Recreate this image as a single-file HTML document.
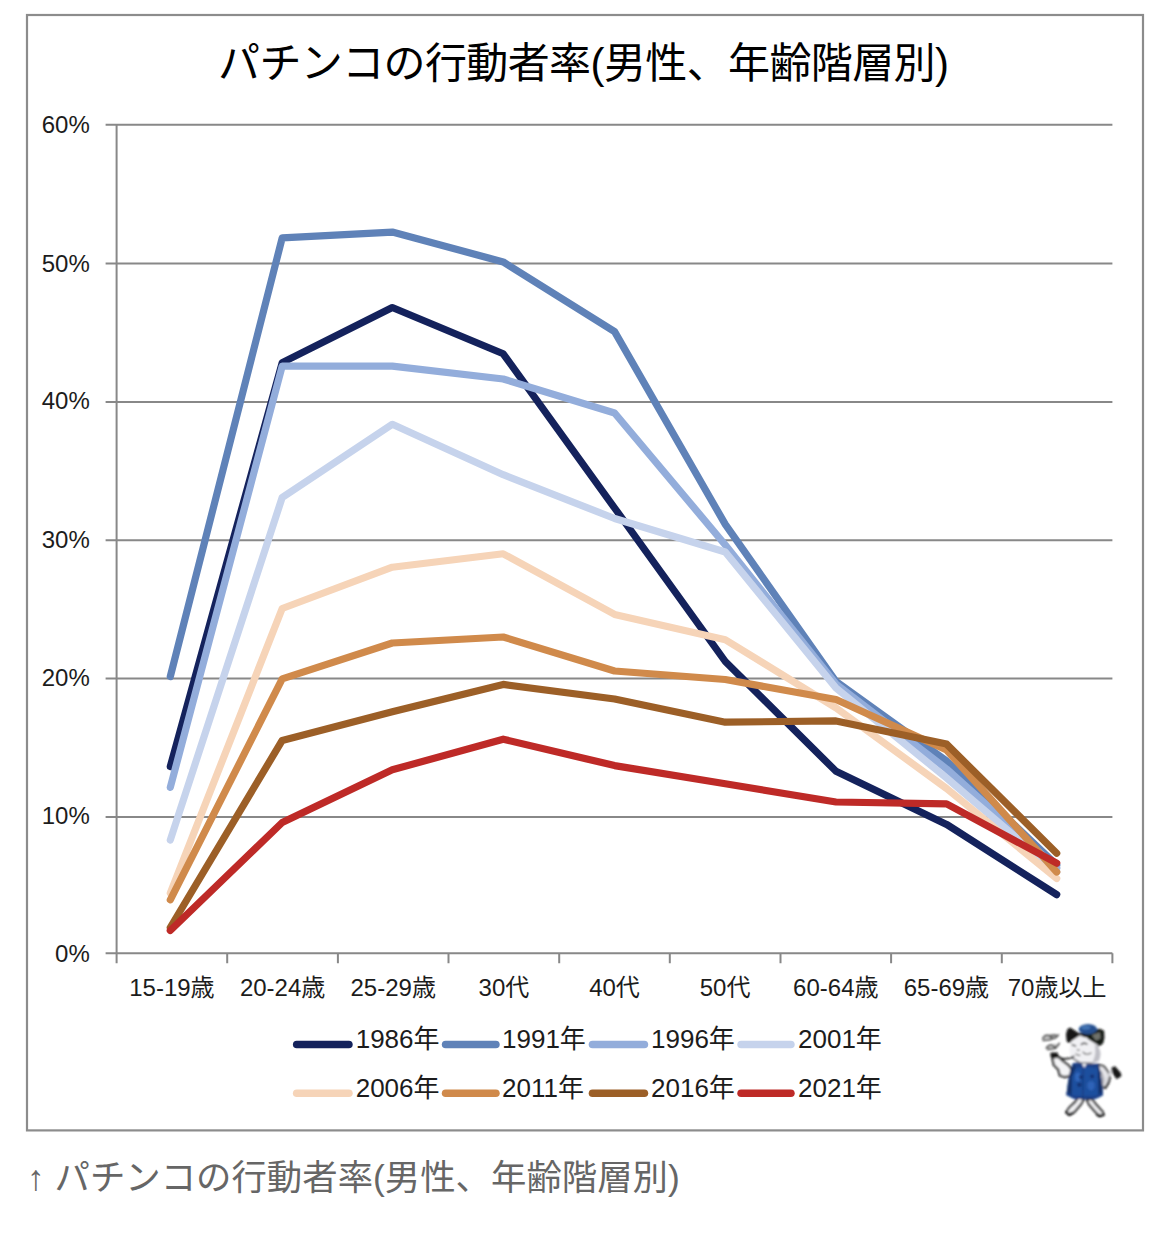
<!DOCTYPE html>
<html lang="ja">
<head>
<meta charset="utf-8">
<title>パチンコの行動者率(男性、年齢階層別)</title>
<style>
html,body{margin:0;padding:0;background:#fff;}
body{width:1170px;height:1244px;overflow:hidden;font-family:"Liberation Sans","Noto Sans CJK JP",sans-serif;}
svg{display:block;}
.t text{font-family:"Liberation Sans","Noto Sans CJK JP",sans-serif;fill:#1c1c1c;stroke:none;}
</style>
</head>
<body>
<svg width="1170" height="1244" viewBox="0 0 1170 1244" role="img" aria-label="パチンコの行動者率(男性、年齢階層別)">
<rect x="0" y="0" width="1170" height="1244" fill="#fff"/>
<g>
<rect x="27" y="15" width="1116" height="1115.4" fill="#fff" stroke="#8c8c8c" stroke-width="2.2"/>
<path d="M105.6 124.7H1112.4M105.6 263.4H1112.4M105.6 401.9H1112.4M105.6 540.3H1112.4M105.6 678.5H1112.4M105.6 817.1H1112.4M105.6 953.3H1112.4" stroke="#888888" stroke-width="2" fill="none"/>
<path d="M116.6 124.7V953.3" stroke="#888888" stroke-width="2" fill="none"/>
<path d="M116.6 953.3v10M227.2 953.3v10M337.9 953.3v10M448.5 953.3v10M559.2 953.3v10M669.8 953.3v10M780.5 953.3v10M891.1 953.3v10M1001.8 953.3v10M1112.4 953.3v10" stroke="#888888" stroke-width="2" fill="none"/>
<polyline points="170.3,766.5 282.2,362.6 392.3,307.5 503.2,353.8 614.6,508.0 725.3,661.5 836.0,771.3 946.6,824.4 1056.7,894.6" fill="none" stroke="#14225c" stroke-width="7.2" stroke-linecap="round" stroke-linejoin="round"/>
<polyline points="170.3,676.5 282.2,237.9 392.3,232.1 503.2,261.9 614.6,331.6 725.3,524.4 836.0,681.5 946.6,761.0 1056.7,865.0" fill="none" stroke="#5f82b8" stroke-width="7.2" stroke-linecap="round" stroke-linejoin="round"/>
<polyline points="170.3,787.4 282.2,366.2 392.3,366.2 503.2,379.0 614.6,413.0 725.3,545.0 836.0,684.0 946.6,769.0 1056.7,868.0" fill="none" stroke="#93addb" stroke-width="7.2" stroke-linecap="round" stroke-linejoin="round"/>
<polyline points="170.3,840.0 282.2,497.4 392.3,424.3 503.2,474.7 614.6,518.5 725.3,552.0 836.0,688.0 946.6,778.0 1056.7,872.0" fill="none" stroke="#c6d3ec" stroke-width="7.2" stroke-linecap="round" stroke-linejoin="round"/>
<polyline points="170.3,893.0 282.2,608.5 392.3,567.2 503.2,553.8 614.6,614.4 725.3,639.7 836.0,707.9 946.6,788.5 1056.7,878.5" fill="none" stroke="#f6d4b8" stroke-width="7.2" stroke-linecap="round" stroke-linejoin="round"/>
<polyline points="170.3,899.8 282.2,678.9 392.3,643.0 503.2,637.0 614.6,671.0 725.3,679.5 836.0,699.5 946.6,750.1 1056.7,872.0" fill="none" stroke="#d08a4b" stroke-width="7.2" stroke-linecap="round" stroke-linejoin="round"/>
<polyline points="170.3,927.5 282.2,740.4 392.3,711.7 503.2,684.4 614.6,699.0 725.3,722.2 836.0,720.9 946.6,744.1 1056.7,853.3" fill="none" stroke="#9c5f27" stroke-width="7.2" stroke-linecap="round" stroke-linejoin="round"/>
<polyline points="170.3,930.5 282.2,822.5 392.3,769.8 503.2,739.2 614.6,765.6 725.3,783.8 836.0,802.0 946.6,803.9 1056.7,863.2" fill="none" stroke="#be2a27" stroke-width="7.2" stroke-linecap="round" stroke-linejoin="round"/>
<path d="M296.7 1044.5H348.9" stroke="#14225c" stroke-width="7.6" stroke-linecap="round" fill="none"/>
<path d="M445.6 1044.5H495.9" stroke="#5f82b8" stroke-width="7.6" stroke-linecap="round" fill="none"/>
<path d="M592.5 1044.5H644.4" stroke="#93addb" stroke-width="7.6" stroke-linecap="round" fill="none"/>
<path d="M741.1 1044.5H790.9" stroke="#c6d3ec" stroke-width="7.6" stroke-linecap="round" fill="none"/>
<path d="M296.7 1093.3H348.9" stroke="#f6d4b8" stroke-width="7.6" stroke-linecap="round" fill="none"/>
<path d="M445.6 1093.3H495.9" stroke="#d08a4b" stroke-width="7.6" stroke-linecap="round" fill="none"/>
<path d="M592.5 1093.3H644.4" stroke="#9c5f27" stroke-width="7.6" stroke-linecap="round" fill="none"/>
<path d="M741.1 1093.3H790.9" stroke="#be2a27" stroke-width="7.6" stroke-linecap="round" fill="none"/>
<defs><filter id="mb" x="-10%" y="-10%" width="120%" height="120%"><feGaussianBlur stdDeviation="9.6"/></filter></defs>
<g transform="translate(1030,1015) scale(0.08842)" filter="url(#mb)" stroke-linejoin="round" stroke-linecap="round">
<!-- smoke -->
<path d="M150 250C180 205 300 200 320 235C330 265 200 290 150 285ZM185 355C215 320 315 315 330 345C335 375 230 395 190 385Z" fill="#d2d2d2"/>
<path d="M145 268C170 215 215 225 235 250S290 265 320 225M150 288L240 276M215 235L290 228M185 372C215 330 250 335 270 355S310 350 330 322M200 388L292 376" fill="none" stroke="#4a4a4a" stroke-width="19"/>
<!-- tail + right body -->
<path d="M770 560L835 578L890 650L895 745L852 828L800 800Z" fill="#e6e6ea" stroke="#383838" stroke-width="22"/>
<path d="M800 640C830 700 835 760 815 800" fill="none" stroke="#a9a9b0" stroke-width="26"/>
<path d="M860 745C890 705 900 655 945 618" fill="none" stroke="#dcdce0" stroke-width="40"/>
<path d="M850 820C885 790 900 750 905 700" fill="none" stroke="#222" stroke-width="22"/>
<path d="M928 598L962 584L1022 655L1030 690L980 720L935 655Z" fill="#161616" stroke="#161616" stroke-width="10"/>
<!-- legs -->
<path d="M545 935L612 950L575 1012L500 1100L440 1126L408 1100L450 1040L510 985Z" fill="#f3f3f5" stroke="#222" stroke-width="24"/>
<path d="M640 948L702 952L745 1010L822 1095L832 1130L775 1137L720 1075L665 1010Z" fill="#f3f3f5" stroke="#222" stroke-width="24"/>
<path d="M412 1100L445 1128L480 1110M760 1125L790 1142L830 1128" stroke="#111" stroke-width="30" fill="none"/>
<!-- arm -->
<path d="M252 482L322 470L372 522L432 566L468 610L455 690L388 702L337 685L320 617L269 566Z" fill="#f4f4f6" stroke="#1e1e1e" stroke-width="25"/>
<!-- vest -->
<path d="M486 545L590 530L640 545L770 552L795 640L818 800L826 906L740 950L500 950L412 906L430 760L455 640Z" fill="#1f4f9e"/>
<path d="M486 545L455 640L430 760L412 906L470 930L475 700L520 590ZM770 552L795 640L818 800L826 906L775 935L768 700Z" fill="#13306a"/>
<path d="M486 545L590 530L640 545L770 552L772 600L640 585L520 600Z" fill="#1a3f86"/>
<path d="M412 906L500 950L740 950L826 906L820 870L740 915L500 915L415 870Z" fill="#1a4088"/>
<path d="M603 600L596 940" stroke="#173c82" stroke-width="16" fill="none"/>
<ellipse cx="540" cy="700" rx="30" ry="50" fill="#3268bd"/><ellipse cx="690" cy="800" rx="40" ry="50" fill="#2f64b8"/>
<circle cx="575" cy="702" r="22" fill="#122f6e"/><circle cx="703" cy="694" r="22" fill="#122f6e"/><circle cx="558" cy="790" r="24" fill="#122f6e"/>
<path d="M583 536L648 540L612 598Z" fill="#f2f2f4"/>
<!-- ears -->
<path d="M430 160L455 148L550 208L640 205L640 250L560 250L500 278L455 312L420 300L413 220Z" fill="#121212" stroke="#121212" stroke-width="10"/>
<path d="M640 215L700 175L790 160L834 180L837 260L822 322L772 354L740 338L659 284Z" fill="#171a17" stroke="#171a17" stroke-width="10"/>
<path d="M700 225L790 195L800 262L745 290Z" fill="#70726c"/>
<!-- head -->
<path d="M566 238L660 282L758 343L795 436L782 518L700 546L560 536L470 482L452 400L473 300Z" fill="#f1f1f4" stroke="#f1f1f4" stroke-width="14"/>
<path d="M730 330C800 360 815 450 775 520L700 545C745 470 745 400 730 330Z" fill="#bfbfc6"/>
<path d="M470 482L560 536L700 546" stroke="#6a6a70" stroke-width="16" fill="none"/>
<!-- hat -->
<ellipse cx="655" cy="160" rx="104" ry="58" fill="#27508f"/>
<ellipse cx="632" cy="142" rx="52" ry="24" fill="#4273b4"/>
<!-- face -->
<path d="M478 338L514 350M580 334C598 318 625 318 644 328" stroke="#2a2a2a" stroke-width="16" fill="none"/>
<path d="M535 395L556 398M520 440C535 458 550 460 565 455M600 420C620 450 660 450 690 430" stroke="#666" stroke-width="14" fill="none"/>
<!-- pipe -->
<rect x="232" y="424" width="84" height="54" rx="10" fill="#131313"/>
<path d="M304 470C345 505 440 505 495 468" stroke="#181818" stroke-width="19" fill="none"/>
</g>

</g>
<g class="t">
<text x="89.8" y="133.4" font-size="24.0" text-anchor="end">60%</text>
<text x="89.8" y="271.8" font-size="24.0" text-anchor="end">50%</text>
<text x="89.8" y="409.3" font-size="24.0" text-anchor="end">40%</text>
<text x="89.8" y="547.6" font-size="24.0" text-anchor="end">30%</text>
<text x="89.8" y="686.0" font-size="24.0" text-anchor="end">20%</text>
<text x="89.8" y="824.3" font-size="24.0" text-anchor="end">10%</text>
<text x="89.8" y="962.0" font-size="24.0" text-anchor="end">0%</text>
<text x="171.9" y="995.5" font-size="24.0" text-anchor="middle">15-19歳</text>
<text x="282.6" y="995.5" font-size="24.0" text-anchor="middle">20-24歳</text>
<text x="393.2" y="995.5" font-size="24.0" text-anchor="middle">25-29歳</text>
<text x="503.9" y="995.5" font-size="24.0" text-anchor="middle">30代</text>
<text x="614.5" y="995.5" font-size="24.0" text-anchor="middle">40代</text>
<text x="725.1" y="995.5" font-size="24.0" text-anchor="middle">50代</text>
<text x="835.8" y="995.5" font-size="24.0" text-anchor="middle">60-64歳</text>
<text x="946.4" y="995.5" font-size="24.0" text-anchor="middle">65-69歳</text>
<text x="1057.1" y="995.5" font-size="24.0" text-anchor="middle">70歳以上</text>
<text x="355.7" y="1047.9" font-size="26.0" text-anchor="start">1986年</text>
<text x="502.0" y="1047.9" font-size="26.0" text-anchor="start">1991年</text>
<text x="651.0" y="1047.9" font-size="26.0" text-anchor="start">1996年</text>
<text x="798.0" y="1047.9" font-size="26.0" text-anchor="start">2001年</text>
<text x="355.7" y="1096.7" font-size="26.0" text-anchor="start">2006年</text>
<text x="502.0" y="1096.7" font-size="26.0" text-anchor="start">2011年</text>
<text x="651.0" y="1096.7" font-size="26.0" text-anchor="start">2016年</text>
<text x="798.0" y="1096.7" font-size="26.0" text-anchor="start">2021年</text>
<text x="218.0" y="77.7" font-size="42.0" text-anchor="start" textLength="731" lengthAdjust="spacing" style="fill:#000">パチンコの行動者率(男性、年齢階層別)</text>
<text x="27.0" y="1190.3" font-size="35.4" text-anchor="start" style="fill:#666">↑ パチンコの行動者率(男性、年齢階層別)</text>
</g>
</svg>
</body>
</html>
